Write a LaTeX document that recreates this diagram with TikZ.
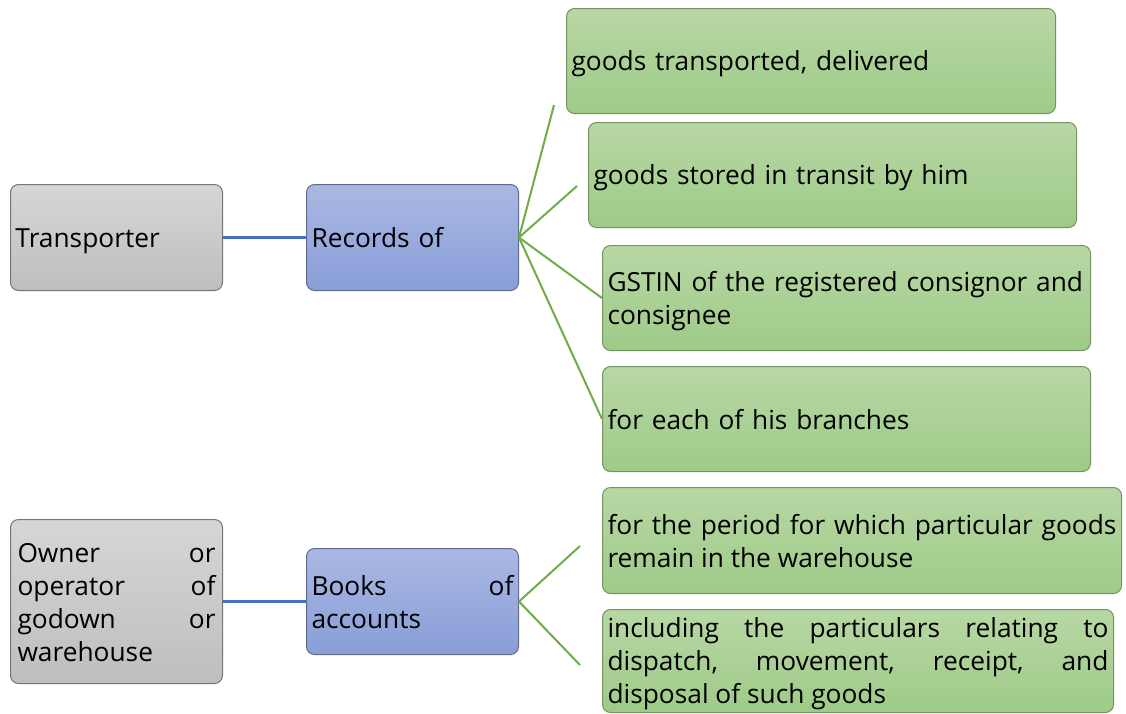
\documentclass[tikz,border=0pt]{standalone}
\usepackage{fontspec}
\setmainfont{Open Sans}
\definecolor{gtop}{RGB}{184,215,164}
\definecolor{gbot}{RGB}{158,203,136}
\definecolor{gdraw}{RGB}{118,146,100}
\definecolor{btop}{RGB}{170,184,227}
\definecolor{bbot}{RGB}{136,158,216}
\definecolor{bdraw}{RGB}{98,108,138}
\definecolor{ytop}{RGB}{214,214,214}
\definecolor{ybot}{RGB}{190,190,190}
\definecolor{ydraw}{RGB}{118,118,118}
\definecolor{lgreen}{RGB}{112,173,71}
\definecolor{lblue}{RGB}{68,114,196}
\newcommand\boxstrut{\rule[-6pt]{0pt}{32pt}}
\tikzset{
  box/.style={rounded corners=8pt, line width=1pt, inner xsep=5pt, inner ysep=0pt,
    anchor=north west, font=\fontsize{26.3}{33}\selectfont, align=left,
    execute at begin node=\boxstrut, execute at end node=\boxstrut},
  greybox/.style={box, draw=ydraw, top color=ytop, bottom color=ybot},
  bluebox/.style={box, draw=bdraw, top color=btop, bottom color=bbot},
  greenbox/.style={box, draw=gdraw, top color=gtop, bottom color=gbot},
  gline/.style={color=lgreen, line width=2pt},
  bline/.style={color=lblue, line width=2.2pt},
}
\begin{document}
\begin{tikzpicture}[x=1pt,y=-1pt]
\useasboundingbox (0,0) rectangle (1126,713);
% left column
\node[greybox, text width=202pt, minimum height=106pt] (tr) at (10,184) {Transporter};
\node[bluebox, text width=202pt, minimum height=106pt] (rec) at (306,184) {Records of};
\node[greybox, text width=198pt, minimum height=164pt, inner xsep=7pt, align=justify] (own) at (10,519)
  {Owner or\linebreak operator of\linebreak godown or\linebreak warehouse};
\node[bluebox, text width=202pt, minimum height=106pt, align=justify] (bks) at (306,548)
  {Books of\linebreak accounts};
% green boxes
\node[greenbox, text width=479pt, minimum height=105pt] (g1) at (566,8) {goods transported, delivered};
\node[greenbox, text width=478pt, minimum height=105pt] (g2) at (588,122) {goods stored in transit by him};
\node[greenbox, text width=478pt, minimum height=105pt] (g3) at (602,245) {GSTIN of the registered consignor and\\consignee};
\node[greenbox, text width=478pt, minimum height=105pt] (g4) at (602,366) {for each of his branches};
\node[greenbox, text width=509pt, minimum height=106pt, align=justify] (g5) at (602,487)
  {for the period for which particular goods\linebreak remain in the warehouse};
\node[greenbox, text width=501pt, minimum height=103pt, align=justify] (g6) at (602,609)
  {including the particulars relating to\linebreak dispatch, movement, receipt, and\linebreak disposal of such goods};
% free ends
\coordinate (c1) at (554,105);
\coordinate (c2) at (577,186);
\coordinate (c5) at (580,546);
\coordinate (c6) at (580,665);
% connectors
\draw[bline] (tr.east) -- (rec.west);
\draw[bline] (own.east) -- (bks.west);
\draw[gline] (rec.east) -- (c1);
\draw[gline] (rec.east) -- (c2);
\draw[gline] (rec.east) -- (g3.west);
\draw[gline] (rec.east) -- (g4.west);
\draw[gline] (bks.east) -- (c5);
\draw[gline] (bks.east) -- (c6);
\end{tikzpicture}
\end{document}
